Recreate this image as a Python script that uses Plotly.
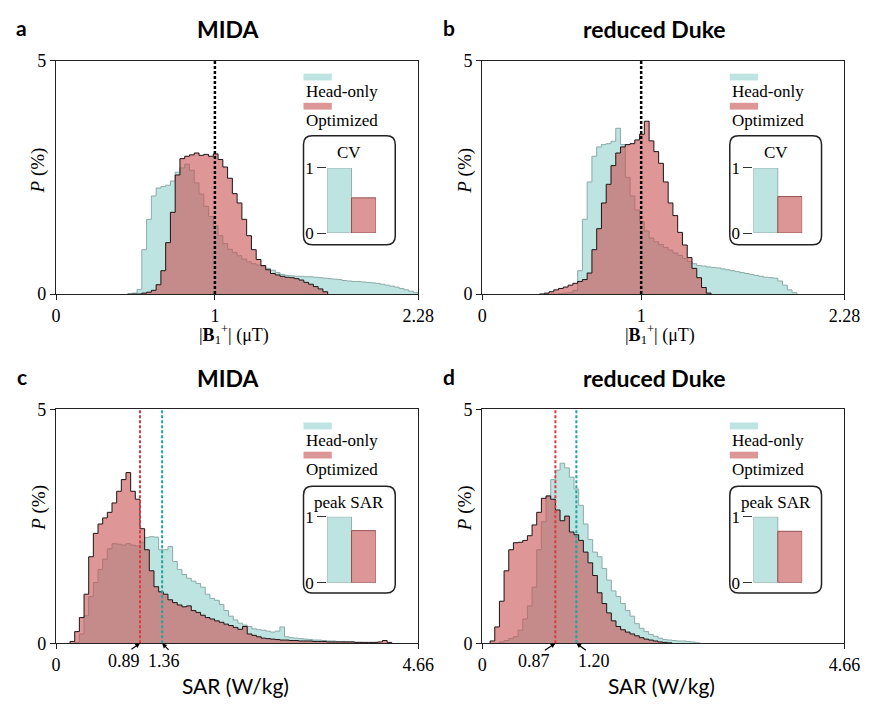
import plotly.graph_objects as go

# ---------------- data ----------------
# B1+ histograms (P in %), bins of equal width starting at given left edge
b1_mida_start, b1_mida_width = 0.45, 0.03
b1_mida_head = [0.0, 0.02, 0.10, 0.95, 1.6, 2.1, 2.27, 2.3, 2.33, 2.42,
                2.61, 2.70, 2.78, 2.65, 2.38, 2.14, 1.88, 1.66, 1.46, 1.25,
                1.08, 0.96, 0.89, 0.82, 0.75, 0.69, 0.65, 0.62, 0.59, 0.55,
                0.51, 0.46, 0.42, 0.40, 0.39, 0.38, 0.38, 0.37, 0.37, 0.36,
                0.35, 0.34, 0.33, 0.32, 0.31, 0.29, 0.28, 0.27, 0.27, 0.26,
                0.25, 0.24, 0.23, 0.21, 0.19, 0.17, 0.15, 0.12, 0.09, 0.06,
                0.03]
b1_mida_opt = [0, 0, 0, 0.02, 0.04, 0.08, 0.2, 0.5, 1.1, 1.75,
               2.55, 2.9, 2.95, 2.98, 3.02, 2.97, 2.99, 2.95, 3.0, 2.88,
               2.72, 2.48, 2.15, 1.95, 1.6, 1.25, 0.95, 0.74, 0.61, 0.52,
               0.44, 0.41, 0.38, 0.36, 0.35, 0.33, 0.30, 0.25, 0.21, 0.16,
               0.11, 0.05]

b1_duke_start, b1_duke_width = 0.36, 0.03
b1_duke_head = [0, 0, 0, 0, 0.01, 0.02, 0.03, 0.08, 0.5, 1.6,
                2.4, 2.95, 3.15, 3.2, 3.22, 3.27, 3.55, 3.2, 2.5, 2.1,
                1.8, 1.55, 1.35, 1.2, 1.12, 1.06, 1.0, 0.94, 0.88, 0.83,
                0.76, 0.70, 0.65, 0.61, 0.60, 0.58, 0.57, 0.56, 0.54, 0.52,
                0.50, 0.48, 0.46, 0.44, 0.42, 0.40, 0.38, 0.36, 0.35, 0.34,
                0.28, 0.19, 0.09, 0.03]
b1_duke_opt = [0.0, 0.02, 0.05, 0.09, 0.12, 0.15, 0.19, 0.23, 0.27, 0.31,
               0.45, 0.95, 1.4, 1.95, 2.35, 2.75, 3.02, 3.15, 3.2, 3.22,
               3.3, 3.42, 3.7, 3.28, 3.05, 2.8, 2.4, 1.95, 1.68, 1.32,
               1.05, 0.78, 0.55, 0.35, 0.14, 0.02]

# SAR histograms
sar_mida_start, sar_mida_width = 0.18, 0.06
sar_mida_head = [0, 0.02, 0.2, 0.59, 1.0, 1.3, 1.58, 1.8, 2.02, 2.13,
                 2.12, 2.1, 2.13, 2.1, 2.08, 2.16, 2.26, 2.28, 2.27, 2.0,
                 2.0, 2.07, 1.75, 1.58, 1.47, 1.39, 1.33, 1.28, 1.2, 1.05,
                 0.96, 0.92, 0.83, 0.70, 0.58, 0.50, 0.43, 0.39, 0.36, 0.31,
                 0.29, 0.28, 0.26, 0.24, 0.26, 0.35, 0.14, 0.12, 0.11, 0.10,
                 0.09, 0.08, 0.07, 0.07, 0.06, 0.05, 0.05, 0.04, 0.04, 0.03,
                 0.03, 0.02, 0.02, 0.01, 0.01, 0.01]
sar_mida_opt = [0.04, 0.25, 0.55, 1.05, 1.85, 2.35, 2.55, 2.68, 2.8, 3.0,
                3.25, 3.5, 3.65, 3.25, 3.08, 2.45, 2.0, 1.55, 1.21, 1.1,
                1.05, 0.93, 0.87, 0.82, 0.78, 0.80, 0.70, 0.66, 0.60, 0.55,
                0.52, 0.48, 0.45, 0.41, 0.38, 0.34, 0.30, 0.36, 0.20, 0.17,
                0.14, 0.11, 0.10, 0.09, 0.08, 0.07, 0.07, 0.06, 0.06, 0.05,
                0.05, 0.05, 0.04, 0.04, 0.04, 0.03, 0.03, 0.03, 0.03, 0.03,
                0.03, 0.02, 0.02, 0.02, 0.02, 0.02, 0.03, 0.06, 0.02]

sar_duke_start, sar_duke_width = 0.10, 0.06
sar_duke_head = [0, 0, 0.03, 0.06, 0.1, 0.14, 0.28, 0.52, 0.8, 1.2,
                 2.0, 2.6, 3.15, 3.5, 3.7, 3.85, 3.75, 3.55, 3.3, 2.95,
                 2.55, 2.22, 1.95, 1.85, 1.6, 1.35, 1.12, 1.0, 0.85, 0.7,
                 0.58, 0.42, 0.32, 0.25, 0.19, 0.15, 0.11, 0.08, 0.07, 0.06,
                 0.05, 0.05, 0.04, 0.03, 0.01]
sar_duke_opt = [0.05, 0.35, 0.9, 1.55, 2.0, 2.15, 2.16, 2.2, 2.3, 2.53,
                2.8, 3.1, 3.15, 3.08, 2.85, 2.62, 2.72, 2.38, 2.32, 2.2,
                1.95, 1.72, 1.45, 1.08, 0.85, 0.65, 0.48, 0.36, 0.29, 0.24,
                0.2, 0.16, 0.12, 0.09, 0.07, 0.05, 0.03, 0.02, 0.01]

# reference / mean lines
b1_target = 1.0
sar_mida_lines = {"opt": 1.08, "head": 1.365}
sar_duke_lines = {"opt": 0.94, "head": 1.21}
sar_mida_labels = ["0.89", "1.36"]
sar_duke_labels = ["0.87", "1.20"]

# insets (normalized)
inset_labels = ["CV", "CV", "peak SAR", "peak SAR"]
inset_head = [1.0, 1.0, 1.0, 1.0]
inset_opt = [0.54, 0.56, 0.79, 0.78]

titles = ["MIDA", "reduced Duke", "MIDA", "reduced Duke"]
letters = ["a", "b", "c", "d"]
b1_ticks = [0, 1, 2.28]
sar_ticks = [0, 4.66]
series_names = ["Head-only", "Optimized"]

# ---------------- styling ----------------
W, H = 880, 709
SERIF = "Liberation Serif"
SANS = "Lato"
CYAN_FILL = "rgb(189,228,224)"
CYAN_LINE = "rgb(140,170,168)"
RED_FILL = "rgba(200,80,80,0.6)"
RED_LINE = "rgb(30,20,20)"
CYAN_SW = "rgb(189,228,224)"
RED_SW = "rgb(221,150,150)"


def X(p):
    return p / W


def Y(p):
    return 1 - p / H


# panel plot areas in pixels: (x0, x1, ytop, ybottom)
panels = [(52.3, 423.3, 52, 292.3), (489, 860, 52, 292.3),
          (52.3, 423.3, 411, 651.7), (489, 860, 411, 651.7)]

fig = go.Figure()
annotations = []
shapes = []


def ann(text, x, y, size, family=SERIF, xanchor="center", yanchor="middle", angle=0, color="black"):
    annotations.append(dict(text=text, x=X(x), y=Y(y), xref="paper", yref="paper", showarrow=False,
                            font=dict(size=size, family=family, color=color),
                            xanchor=xanchor, yanchor=yanchor, textangle=angle))


def steps(start, width, vals):
    xs = [start] + [start + width * k for k in range(len(vals) + 1)]
    ys = [0] + list(vals) + [0]
    return xs, ys


hist_sets = [
    (b1_mida_start, b1_mida_width, b1_mida_head, b1_mida_opt),
    (b1_duke_start, b1_duke_width, b1_duke_head, b1_duke_opt),
    (sar_mida_start, sar_mida_width, sar_mida_head, sar_mida_opt),
    (sar_duke_start, sar_duke_width, sar_duke_head, sar_duke_opt),
]

axis_common = dict(showgrid=False, zeroline=False, showline=True, mirror=True, linecolor="#222",
                   linewidth=1.3, ticks="outside", ticklen=5, tickwidth=1.3, tickcolor="#222",
                   tickfont=dict(family=SERIF, size=18, color="black"))

layout_axes = {}
for i, (x0, x1, yt, yb) in enumerate(panels):
    n = i + 1
    xa = "x" if n == 1 else f"x{n}"
    ya = "y" if n == 1 else f"y{n}"
    start, width, head, opt = hist_sets[i]
    for vals, fill, line in [(head, CYAN_FILL, CYAN_LINE), (opt, RED_FILL, RED_LINE)]:
        xs, ys = steps(start, width, vals)
        fig.add_trace(go.Scatter(x=xs, y=ys, mode="lines", line=dict(shape="hv", color=line, width=1),
                                 fill="tozeroy", fillcolor=fill, xaxis=xa, yaxis=ya,
                                 showlegend=False, hoverinfo="skip"))
    xmax = 2.28 if i < 2 else 4.66
    ticks = b1_ticks if i < 2 else sar_ticks
    layout_axes[f"xaxis{n}"] = dict(axis_common, domain=[X(x0), X(x1)], range=[0, xmax],
                                   tickvals=ticks, ticktext=[f"{t:g}" for t in ticks],
                                   anchor=ya)
    layout_axes[f"yaxis{n}"] = dict(axis_common, domain=[Y(yb), Y(yt)], range=[0, 5],
                                   tickvals=[0, 5], anchor=xa)

    # vertical lines
    if i < 2:
        shapes.append(dict(type="line", xref=xa, yref=ya, x0=b1_target, x1=b1_target, y0=0, y1=5,
                           line=dict(color="black", width=2.5, dash="3px,2px")))
    else:
        lines = sar_mida_lines if i == 2 else sar_duke_lines
        labels = sar_mida_labels if i == 2 else sar_duke_labels
        shapes.append(dict(type="line", xref=xa, yref=ya, x0=lines["opt"], x1=lines["opt"], y0=0, y1=5,
                           line=dict(color="rgb(215,60,65)", width=2, dash="3px,2px")))
        shapes.append(dict(type="line", xref=xa, yref=ya, x0=lines["head"], x1=lines["head"], y0=0, y1=5,
                           line=dict(color="rgb(30,165,160)", width=2, dash="3px,2px")))
        # value labels with small arrows
        if i == 2:
            lab_px = [121.5, 162.5]
            arr = [(-10, 7), (8, 8)]
        else:
            lab_px = [541.7, 603.0]
            arr = [(-12, 8), (11, 8)]
        for lab, lx in zip(labels, lab_px):
            ann(lab, lx, yb + 18.5, 18)
        for key, (ax_, ay_) in zip(["opt", "head"], arr):
            annotations.append(dict(text="", x=lines[key], y=0, xref=xa, yref=ya, showarrow=True,
                                    ax=ax_, ay=ay_, arrowhead=2, arrowsize=0.8, arrowwidth=1.2,
                                    arrowcolor="black", standoff=0))

    # titles & labels
    cx = (x0 + x1) / 2
    ann(f"<b>{titles[i]}</b>", cx - 9 if i % 2 == 0 else cx - 9.5, yt - 32, 23, family=SANS)
    ann(f"<b>{letters[i]}</b>", 17 if i % 2 == 0 else 455, yt - 34, 21, family=SANS)
    ann("<i>P</i> (%)", x0 - 17.5, (yt + yb) / 2 - 7 + (0 if i < 2 else -12), 19, angle=-90)
    if i < 2:
        ann("|<b>B</b><sub>1</sub><sup>+</sup>| (μT)", cx - 3, yb + 42, 18)
    else:
        ann("SAR (W/kg)", cx - 2, yb + 43.5, 21, family=SANS)

    # legend
    lx = x0 + 253.5
    ly = yt + 7
    shapes.append(dict(type="rect", xref="paper", yref="paper", x0=X(lx), x1=X(lx + 29),
                       y0=Y(ly + 13.5), y1=Y(ly + 6.5), fillcolor=CYAN_SW, line=dict(width=0)))
    ann(series_names[0], lx, ly + 25, 17, xanchor="left")
    shapes.append(dict(type="rect", xref="paper", yref="paper", x0=X(lx), x1=X(lx + 29),
                       y0=Y(ly + 43.5), y1=Y(ly + 36.5), fillcolor=RED_SW, line=dict(width=0)))
    ann(series_names[1], lx, ly + 55, 17, xanchor="left")

    # inset
    bx0, bx1 = x0 + 253.5, x0 + 347.5
    by0, by1 = (yt + 77.5, yt + 189.5) if i < 2 else (yt + 79, yt + 189)
    r = 9
    path = (f"M {X(bx0 + r)},{Y(by0)} L {X(bx1 - r)},{Y(by0)} Q {X(bx1)},{Y(by0)} {X(bx1)},{Y(by0 + r)} "
            f"L {X(bx1)},{Y(by1 - r)} Q {X(bx1)},{Y(by1)} {X(bx1 - r)},{Y(by1)} "
            f"L {X(bx0 + r)},{Y(by1)} Q {X(bx0)},{Y(by1)} {X(bx0)},{Y(by1 - r)} "
            f"L {X(bx0)},{Y(by0 + r)} Q {X(bx0)},{Y(by0)} {X(bx0 + r)},{Y(by0)} Z")
    shapes.append(dict(type="path", path=path, xref="paper", yref="paper",
                       line=dict(color="#222", width=1.5)))
    ann(inset_labels[i], (bx0 + bx1) / 2, by0 + 17, 17)
    ix0 = x0 + 277.7
    iy1, iy0 = (by0 + 33, by0 + 100) if i < 2 else (by0 + 31.5, by0 + 99.3)
    m = i + 5
    fig.add_trace(go.Bar(x=[0.5, 1.5], y=[inset_head[i], inset_opt[i]], width=1,
                         marker=dict(color=[CYAN_SW, RED_SW],
                                     line=dict(color=["rgb(150,175,172)", "rgb(150,80,80)"], width=1)),
                         xaxis=f"x{m}", yaxis=f"y{m}", showlegend=False, hoverinfo="skip",
                         cliponaxis=False))
    layout_axes[f"xaxis{m}"] = dict(domain=[X(ix0), X(ix0 + 50)], range=[0, 2], visible=False,
                                   anchor=f"y{m}")
    layout_axes[f"yaxis{m}"] = dict(domain=[Y(iy0), Y(iy1)], range=[0, 1], showgrid=False,
                                   zeroline=False, showline=False, ticks="outside", ticklen=9,
                                   tickwidth=1.2, tickcolor="#333", tickvals=[0, 1],
                                   tickfont=dict(family=SERIF, size=17, color="black"),
                                   anchor=f"x{m}")

layout_axes["xaxis"] = layout_axes.pop("xaxis1")
layout_axes["yaxis"] = layout_axes.pop("yaxis1")

fig.update_layout(width=W, height=H, margin=dict(l=0, r=0, t=0, b=0),
                  paper_bgcolor="white", plot_bgcolor="rgba(0,0,0,0)",
                  annotations=annotations, shapes=shapes, **layout_axes)

fig.write_html("out.html")
